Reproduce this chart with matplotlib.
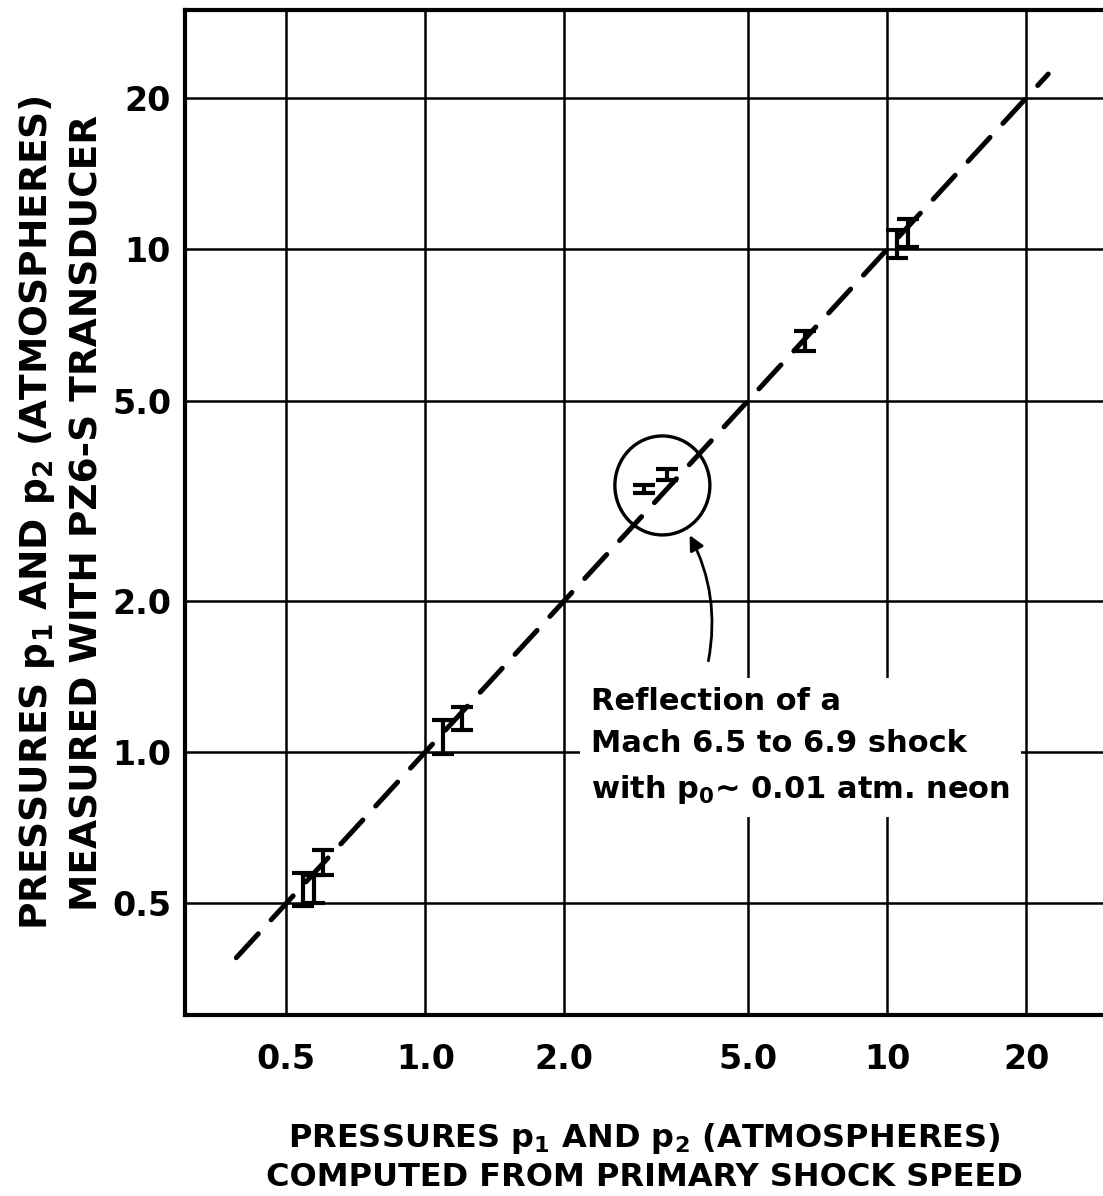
import matplotlib
matplotlib.use("Agg")
import matplotlib.pyplot as plt
from matplotlib.patches import Ellipse
from matplotlib.transforms import ScaledTranslation

# ── data ────────────────────────────────────────────────────────────────────
# computed pressure (x) and measured range (y_lo .. y_hi), atmospheres
x_computed = [0.545, 0.575, 0.600, 1.09, 1.20, 2.97, 3.34, 6.64, 10.5, 11.1]
y_low      = [0.495, 0.500, 0.570, 0.99, 1.105, 3.27, 3.47, 6.26, 9.6, 10.1]
y_high     = [0.575, 0.570, 0.640, 1.16, 1.23, 3.39, 3.66, 6.89, 10.9, 11.5]

ideal_line = [0.39, 22.3]           # y = x reference line end points
tick_vals  = [0.5, 1.0, 2.0, 5.0, 10, 20]
x_ticklabels = ["0.5", "1.0", "2.0", "5.0", "10", "20"]
y_ticklabels = ["0.5", "1.0", "2.0", "5.0", "10", "20"]

circled_pt = (3.26, 3.39)
note_text = ("Reflection of a\n"
             "Mach 6.5 to 6.9 shock\n"
             "with p$_0$~ 0.01 atm. neon")

plt.rcParams["font.family"] = ["DejaVu Sans"]
plt.rcParams["font.weight"] = "bold"
plt.rcParams["axes.labelweight"] = "bold"
plt.rcParams["mathtext.default"] = "bf"

W, H = 1103, 1196
fig = plt.figure(figsize=(W / 100, H / 100), dpi=100)
ax = fig.add_axes([185 / W, 1 - 1015 / H, 918 / W, 1005 / H])

ax.set_xscale("log")
ax.set_yscale("log")
ax.set_xlim(0.302, 29.3)
ax.set_ylim(0.30, 29.9)

# grid only at labelled values
for v in tick_vals:
    ax.axvline(v, color="black", lw=1.8, zorder=1)
    ax.axhline(v, color="black", lw=1.8, zorder=1)

# dashed y = x line
ax.plot(ideal_line, ideal_line, color="black", lw=3.6,
        dashes=(6.5, 3.8), dash_capstyle="round", zorder=3)

# measured ranges as capped bars
y_mid = [(lo + hi) / 2 for lo, hi in zip(y_low, y_high)]
yerr = [[m - lo for m, lo in zip(y_mid, y_low)],
        [hi - m for m, hi in zip(y_mid, y_high)]]
ax.errorbar(x_computed, y_mid, yerr=yerr, fmt="none", ecolor="black",
            elinewidth=3.0, capsize=8, capthick=3.0, zorder=4)

# circle around the reflected-shock points
circ_tr = fig.dpi_scale_trans + ScaledTranslation(circled_pt[0], circled_pt[1],
                                                  ax.transData)
ax.add_patch(Ellipse((0, 0), 0.95, 0.99, transform=circ_tr, fill=False,
                     lw=2.4, edgecolor="black", zorder=5))

ax.text(2.28, 1.35, note_text, ha="left", va="top", fontsize=22,
        linespacing=1.6, zorder=6,
        bbox=dict(facecolor="white", edgecolor="none", pad=8))

ax.annotate("", xy=(3.71, 2.73), xytext=(4.09, 1.50),
            arrowprops=dict(arrowstyle="-|>", color="black", lw=2.0,
                            mutation_scale=22,
                            connectionstyle="arc3,rad=0.18"),
            zorder=7)

ax.set_xticks(tick_vals)
ax.set_xticklabels(x_ticklabels)
ax.set_yticks(tick_vals)
ax.set_yticklabels(y_ticklabels)
ax.minorticks_off()
ax.tick_params(axis="both", length=0, labelsize=24)
ax.tick_params(axis="x", pad=20)
ax.tick_params(axis="y", pad=10)

for side in ["left", "top", "bottom"]:
    ax.spines[side].set_linewidth(3.0)
ax.spines["right"].set_visible(False)

ax.set_xlabel("PRESSURES p$_1$ AND p$_2$ (ATMOSPHERES)\n"
              "COMPUTED FROM PRIMARY SHOCK SPEED",
              fontsize=23, linespacing=1.25)
ax.xaxis.set_label_coords(459 / 918, -(1121 - 1015) / 1005)
ax.set_ylabel("PRESSURES p$_1$ AND p$_2$ (ATMOSPHERES)\n"
              "MEASURED WITH PZ6-S TRANSDUCER",
              fontsize=27, linespacing=1.45)
ax.yaxis.set_label_coords(-(185 - 106) / 918, 0.5)

fig.savefig("out.png", dpi=100)
